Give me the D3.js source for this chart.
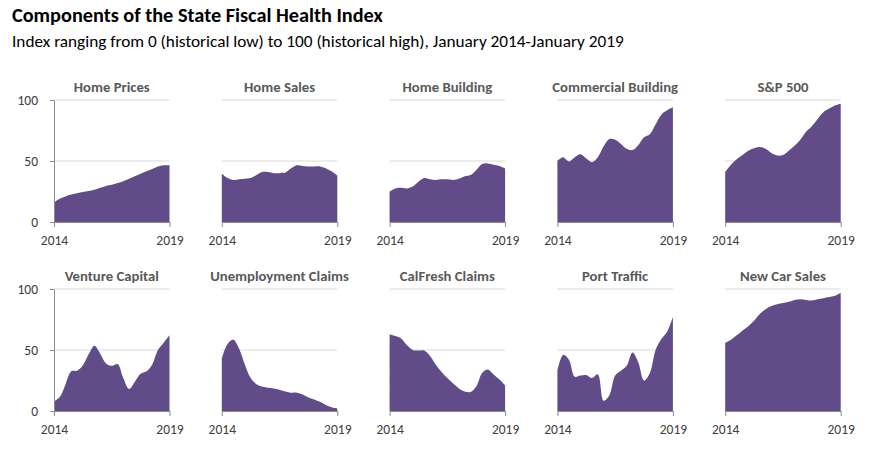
<!DOCTYPE html>
<html>
<head>
<meta charset="utf-8">
<script src="https://cdn.jsdelivr.net/npm/d3@7"></script>
<style>
  html, body { margin: 0; padding: 0; background: #fff; }
  svg { display: block; }
  text { font-family: Carlito, Calibri, Lato, "Open Sans", sans-serif; }
</style>
</head>
<body>
<svg id="chart" width="884" height="465"></svg>
<script>
// ---- Data (quarterly, Jan 2014 .. Jan 2019) ----
const titles = ["Home Prices", "Home Sales", "Home Building", "Commercial Building", "S&P 500",
                "Venture Capital", "Unemployment Claims", "CalFresh Claims", "Port Traffic", "New Car Sales"];
const homePrices = [16, 19, 21, 22.5, 23.5, 24.5, 25.5, 26.5, 28, 29.5, 30.5, 32, 33.5, 35.5, 37.5, 39.5, 41.5, 43.5, 45.5, 46.5, 46.5];
const homeSales = [39.5, 36, 34.5, 35, 35.5, 36, 38.5, 41, 41, 40, 40, 40.5, 44, 46.5, 46, 45.5, 45.5, 45.5, 44, 41.5, 38];
const homeBuilding = [25, 27.5, 28, 27.5, 29, 33, 36, 35, 34.5, 35, 35, 34.5, 35.5, 37.5, 38.5, 42.5, 47.5, 48, 47, 46, 44];
const commercialBuilding = [50, 53, 49.5, 53, 55.5, 52, 49, 53, 62, 68, 67.5, 64, 60, 59, 63, 69.5, 72, 80, 88, 91.5, 94];
const sp500 = [41, 47, 51.5, 55, 58.5, 60.5, 61.5, 60, 56.5, 54.5, 55, 58.5, 62.5, 67.5, 74, 78.5, 84.5, 90, 93, 95.5, 97];
const ventureCapital = [8, 11.5, 22, 32.5, 33, 37.5, 46.5, 53.5, 47, 39, 37, 38.5, 27, 18, 24, 30.5, 32.5, 38, 50, 56, 62];
const unemploymentClaims = [43, 55, 58.5, 51, 38, 27, 22, 20, 19, 18.5, 17.5, 16, 15, 15, 13.5, 11, 9.5, 7.5, 5, 3, 2];
const calFreshClaims = [63, 61.5, 59.5, 54, 50, 49.5, 49.5, 45, 38, 32, 27, 22.5, 18.5, 16, 15.5, 20, 31, 34, 30, 26, 21];
const portTraffic = [33, 46, 42, 28, 29, 29.5, 27, 30, 8.5, 13, 29, 33, 37, 48, 40, 25, 31, 50, 59, 65, 77];
const newCarSales = [56, 58.5, 62, 66, 69.5, 74, 79.5, 83.5, 86, 87.5, 88.5, 89.5, 91, 91.5, 91, 90.5, 91.5, 92.5, 93.5, 94.5, 97];
const seriesList = [homePrices, homeSales, homeBuilding, commercialBuilding, sp500,
                    ventureCapital, unemploymentClaims, calFreshClaims, portTraffic, newCarSales];
const xTickLabels = ["2014", "2019"];
const yTicks = [0, 50, 100];
const titleText = "Components of the State Fiscal Health Index";
const subtitleText = "Index ranging from 0 (historical low) to 100 (historical high), January 2014-January 2019";

// ---- Layout ----
const svg = d3.select("#chart");
const fill = "#614c89";
const axisColor = "#8c8c8c";
const gridColor = "#d9d9d9";
const textColor = "#404040";
const panelTitleColor = "#595959";
const panelW = 115.5, pitch = 167.8, left0 = 54;
const rows = [{top: 100, bottom: 222}, {top: 289, bottom: 411}];

function fitText(sel, target) {
  const node = sel.node();
  const w = node.getComputedTextLength();
  const fs = parseFloat(sel.attr("font-size"));
  const nfs = w > 0 ? fs * target / w : fs;
  sel.attr("font-size", nfs.toFixed(2));
  return nfs;
}

// Titles
const t1 = svg.append("text").attr("x", 12).attr("y", 22).attr("font-size", 18)
  .attr("font-weight", "bold").attr("fill", "#000").text(titleText);
fitText(t1, 371);
const t2 = svg.append("text").attr("x", 12).attr("y", 47).attr("font-size", 15)
  .attr("fill", "#000").text(subtitleText);
fitText(t2, 612);

// measure panel title size from "Home Prices" (76px wide in reference)
const probe = svg.append("text").attr("font-size", 13).attr("font-weight", "bold").text(titles[0]);
const panelFont = fitText(probe, 76);
probe.remove();

const nPts = homePrices.length;

seriesList.forEach((vals, i) => {
  const r = Math.floor(i / 5), c = i % 5;
  const x0 = left0 + c * pitch;
  const row = rows[r];
  const x = d3.scaleLinear().domain([0, nPts - 1]).range([x0, x0 + panelW]);
  const y = d3.scaleLinear().domain([0, 100]).range([row.bottom, row.top]);
  const g = svg.append("g");

  // gridlines
  g.selectAll("line.grid").data([50, 100]).join("line")
    .attr("x1", x0).attr("x2", x0 + panelW)
    .attr("y1", d => y(d)).attr("y2", d => y(d))
    .attr("stroke", gridColor).attr("stroke-width", 1);

  // area
  const area = d3.area()
    .x((d, k) => x(k)).y0(y(0)).y1(d => y(d))
    .curve(d3.curveCatmullRom.alpha(0.5));
  g.append("path").datum(vals).attr("d", area).attr("fill", fill);

  // bottom axis
  const xa = d3.scaleLinear().domain([0, 1]).range([x0, x0 + panelW]);
  const bx = g.append("g").attr("transform", `translate(0,${y(0)})`)
    .call(d3.axisBottom(xa).tickValues([0, 1]).tickFormat((d, k) => xTickLabels[k])
      .tickSizeOuter(0).tickSizeInner(5).tickPadding(8));
  bx.select(".domain").attr("stroke", axisColor);
  bx.selectAll(".tick line").attr("stroke", axisColor);
  bx.selectAll(".tick text").attr("fill", textColor).attr("font-size", 13.5)
    .attr("font-family", "Carlito, Calibri, Lato, sans-serif");

  // left axis for first column
  if (c === 0) {
    const ly = g.append("g").attr("transform", `translate(${x0},0)`)
      .call(d3.axisLeft(y).tickValues(yTicks).tickSizeOuter(0).tickSizeInner(4).tickPadding(12));
    ly.select(".domain").attr("stroke", axisColor);
    ly.selectAll(".tick line").attr("stroke", axisColor);
    ly.selectAll(".tick text").attr("fill", textColor).attr("font-size", 13.5)
      .attr("font-family", "Carlito, Calibri, Lato, sans-serif");
  }

  // panel title
  g.append("text").attr("x", x0 + panelW / 2).attr("y", row.top - 8)
    .attr("text-anchor", "middle").attr("font-size", panelFont.toFixed(2)).attr("font-weight", "bold")
    .attr("fill", panelTitleColor).text(titles[i]);
});
</script>
</body>
</html>
